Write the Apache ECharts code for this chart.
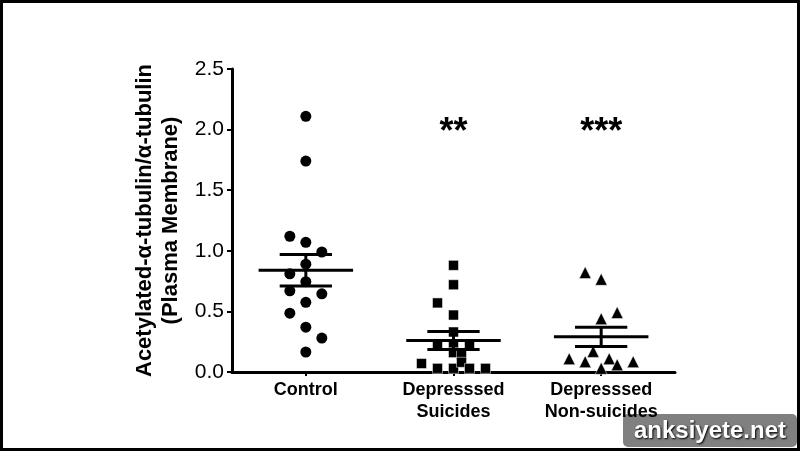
<!DOCTYPE html>
<html>
<head>
<meta charset="utf-8">
<script src="https://cdn.jsdelivr.net/npm/echarts@6/dist/echarts.min.js"></script>
<style>
  html, body { margin: 0; padding: 0; background: #fff; }
  #chart { width: 800px; height: 451px; }
</style>
</head>
<body>
<div id="chart"></div>
<script>
// groups on the x axis
const categories = ['Control', 'Depresssed\nSuicides', 'Depresssed\nNon-suicides']
const yTicks = [0, 0.5, 1.0, 1.5, 2.0, 2.5]

// individual points (value) and their column in the scatter (jitter slot)
const controlValues = [2.11, 1.74, 1.12, 1.07, 0.99, 0.89, 0.81, 0.745, 0.67, 0.645, 0.575, 0.485, 0.37, 0.28, 0.165]
const controlCols = [0, 0, -1, 0, 1, 0, -1, 0, -1, 1, 0, -1, 0, 1, 0]
const suicideValues = [0.88, 0.72, 0.57, 0.47, 0.33, 0.22, 0.22, 0.22, 0.16, 0.14, 0.07, 0.03, 0.03, 0.08, 0.03, 0.03]
const suicideCols = [0, 0, -1, 0, 0, -1, 0, 1, 0, 0.5, -2, -1, 0, 0.5, 1, 2]
const nonSuicideValues = [0.82, 0.765, 0.49, 0.44, 0.17, 0.11, 0.085, 0.11, 0.085, 0.03, 0.06]
const nonSuicideCols = [-1, 0, 1, 0, -0.5, -2, -1, 0.5, 2, 0, 1]

// group mean and SEM
const means = [0.84, 0.26, 0.29]
const sems = [0.13, 0.075, 0.08]

// significance marks
const stars = ['', '**', '***']
const starLevel = 1.97

const font = '"Liberation Sans", Arial, sans-serif'
let myCharts = echarts.init(document.getElementById('chart'))

// turn values into scatter points on one category
function points(idx, values, cols) {
  return values.map((v, i) => ({
    value: [idx, v],
    symbolOffset: [cols[i] * 16, 0],
  }))
}

myCharts.setOption({
  animation: false,
  grid: {
    left: 232,
    right: 125,
    top: 69,
    bottom: 79,
  },
  xAxis: {
    type: 'category',
    data: categories,
    axisLine: { show: true, lineStyle: { color: '#000', width: 3 } },
    axisTick: { show: true, alignWithLabel: true, length: 4, lineStyle: { color: '#000', width: 2 } },
    axisLabel: {
      interval: 0,
      hideOverlap: false,
      color: '#000',
      fontFamily: font,
      fontWeight: 'bold',
      fontSize: 18,
      lineHeight: 22,
      margin: 7,
    },
    splitLine: { show: false },
  },
  yAxis: {
    type: 'value',
    min: 0,
    max: 2.5,
    interval: 0.5,
    name: 'Acetylated-α-tubulin/α-tubulin\n(Plasma Membrane)',
    nameLocation: 'middle',
    nameGap: 42,
    nameTextStyle: {
      color: '#000',
      fontFamily: font,
      fontWeight: 'bold',
      fontSize: 22,
      lineHeight: 26,
    },
    axisLine: { show: true, lineStyle: { color: '#000', width: 3 } },
    axisTick: { show: true, length: 5, lineStyle: { color: '#000', width: 2 } },
    axisLabel: {
      color: '#000',
      fontFamily: font,
      fontSize: 21,
      margin: 8,
      formatter: (v) => v.toFixed(1),
    },
    splitLine: { show: false },
  },
  graphic: [
    {
      type: 'rect',
      shape: { x: 1.5, y: 1.5, width: 797, height: 448 },
      style: { fill: 'none', stroke: '#000', lineWidth: 3 },
      z: 100,
    },
    {
      type: 'group',
      z: 100,
      children: [
        {
          type: 'rect',
          shape: { x: 623, y: 414, width: 174, height: 33, r: 5 },
          style: { fill: '#808080' },
        },
        {
          type: 'text',
          x: 710,
          y: 431,
          style: {
            text: 'anksiyete.net',
            fill: '#fff',
            font: 'bold 24px ' + font,
            align: 'center',
            verticalAlign: 'middle',
            textShadowColor: '#000',
            textShadowBlur: 2,
            textShadowOffsetX: 1,
            textShadowOffsetY: 1,
          },
        },
      ],
    },
  ],
  series: [
    {
      type: 'scatter',
      symbol: 'circle',
      symbolSize: 11,
      itemStyle: { color: '#000', opacity: 1 },
      data: points(0, controlValues, controlCols),
    },
    {
      type: 'scatter',
      symbol: 'rect',
      symbolSize: 10,
      itemStyle: { color: '#000', opacity: 1, borderColor: '#fff', borderWidth: 0.5 },
      data: points(1, suicideValues, suicideCols),
    },
    {
      type: 'scatter',
      symbol: 'triangle',
      symbolSize: 12,
      itemStyle: { color: '#000', opacity: 1, borderColor: '#fff', borderWidth: 0.5 },
      data: points(2, nonSuicideValues, nonSuicideCols),
    },
    // mean +- SEM
    {
      type: 'custom',
      z: 5,
      data: means.map((m, i) => [i, m, sems[i]]),
      renderItem: (params, api) => {
        const i = api.value(0)
        const m = api.value(1)
        const s = api.value(2)
        const c = api.coord([i, m])
        const t = api.coord([i, m + s])
        const b = api.coord([i, m - s])
        const band = api.size([1, 0])[0]
        const mh = band * 0.32
        const wh = band * 0.177
        const st = { stroke: '#000', lineWidth: 3 }
        return {
          type: 'group',
          children: [
            { type: 'line', shape: { x1: c[0] - mh, y1: c[1], x2: c[0] + mh, y2: c[1] }, style: st },
            { type: 'line', shape: { x1: t[0] - wh, y1: t[1], x2: t[0] + wh, y2: t[1] }, style: st },
            { type: 'line', shape: { x1: b[0] - wh, y1: b[1], x2: b[0] + wh, y2: b[1] }, style: st },
            { type: 'line', shape: { x1: t[0], y1: t[1], x2: b[0], y2: b[1] }, style: st },
          ],
        }
      },
    },
    // significance stars
    {
      type: 'scatter',
      symbolSize: 1,
      itemStyle: { color: 'transparent', opacity: 1 },
      data: stars.map((s, i) => [i, starLevel, s]),
      label: {
        show: true,
        position: 'inside',
        color: '#000',
        fontFamily: font,
        fontWeight: 'bold',
        fontSize: 36,
        formatter: (p) => p.value[2],
      },
    },
  ],
})
</script>
</body>
</html>
